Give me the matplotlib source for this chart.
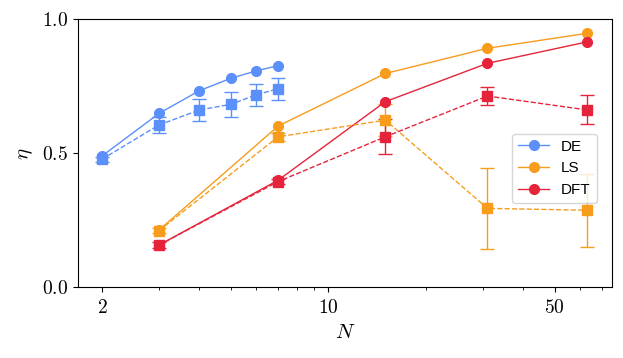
import matplotlib
matplotlib.use("Agg")
import matplotlib.pyplot as plt
from matplotlib.ticker import FixedLocator, FixedFormatter, LogLocator, NullFormatter

plt.rcParams['mathtext.fontset'] = 'cm'
plt.rcParams['font.family'] = 'serif'
plt.rcParams['font.serif'] = ['cmr10', 'DejaVu Serif']
plt.rcParams['axes.formatter.use_mathtext'] = True

# Data
N_de = [2, 3, 4, 5, 6, 7]
de_best = [0.490, 0.649, 0.734, 0.780, 0.808, 0.827]
de_mean = [0.478, 0.606, 0.662, 0.683, 0.719, 0.741]
de_err = [0.010, 0.030, 0.041, 0.047, 0.041, 0.040]

N_ls = [3, 7, 15, 31, 63]
ls_best = [0.214, 0.602, 0.798, 0.892, 0.948]
ls_mean = [0.212, 0.562, 0.624, 0.295, 0.288]
ls_err = [0.010, 0.015, 0.060, 0.150, 0.137]

N_dft = [3, 7, 15, 31, 63]
dft_best = [0.158, 0.400, 0.693, 0.836, 0.916]
dft_mean = [0.158, 0.395, 0.562, 0.714, 0.662]
dft_err = [0.010, 0.010, 0.065, 0.034, 0.054]

labels = ['DE', 'LS', 'DFT']
colors = ['#5B8FF9', '#F89C1C', '#E5243B']

fig = plt.figure(figsize=(6.23, 3.58), dpi=100)
ax = fig.add_axes([0.125, 0.197, 0.857, 0.749])

series = [(N_de, de_best, de_mean, de_err), (N_ls, ls_best, ls_mean, ls_err),
          (N_dft, dft_best, dft_mean, dft_err)]
handles = []
for (x, b, m, e), lab, c in zip(series, labels, colors):
    h, = ax.plot(x, b, '-o', color=c, lw=1.0, ms=7, label=lab)
    handles.append(h)
    ax.errorbar(x, m, yerr=e, fmt='--s', color=c, lw=1.0, ms=7,
                capsize=5, elinewidth=1.0, capthick=1.0)

ax.set_xscale('log')
ax.set_xlim(1.686, 75)
ax.set_ylim(0, 1.0)
ax.xaxis.set_major_locator(FixedLocator([2, 10, 50]))
ax.xaxis.set_major_formatter(FixedFormatter(['$2$', '$10$', '$50$']))
ax.xaxis.set_minor_locator(LogLocator(base=10, subs=range(1, 10)))
ax.xaxis.set_minor_formatter(NullFormatter())
ax.set_yticks([0, 0.5, 1.0])
ax.set_yticklabels(['$0.0$', '$0.5$', '$1.0$'])
ax.tick_params(axis='both', labelsize=14)
ax.tick_params(axis='x', pad=5)
ax.set_xlabel('$N$', fontsize=15, labelpad=5)
ax.set_ylabel(r'$\eta$', fontsize=15, labelpad=5)

leg = ax.legend(handles=handles, loc='lower right', bbox_to_anchor=(0.972, 0.315),
                borderaxespad=0,
                prop={'family': 'Liberation Sans', 'size': 11}, framealpha=0.8,
                handlelength=2.0)

fig.savefig('out.png', dpi=100)
